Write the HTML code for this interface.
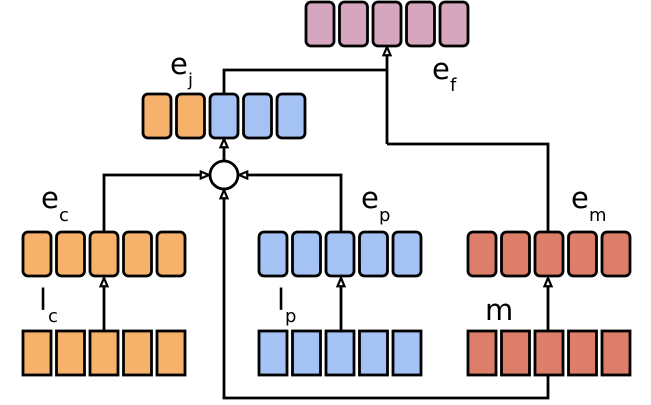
<!DOCTYPE html>
<html><head><meta charset="utf-8"><style>
html,body{margin:0;padding:0;background:#fff;}
svg{display:block;}
text{font-family:"DejaVu Sans","Liberation Sans",sans-serif;fill:#000;}
</style></head><body>
<svg width="651" height="405" viewBox="0 0 651 405" xmlns="http://www.w3.org/2000/svg">
<defs>
<marker id="a" viewBox="0 0 10 10" refX="9" refY="5" markerWidth="11" markerHeight="11" orient="auto" markerUnits="userSpaceOnUse">
<path d="M1.5,1.8 L9,5 L1.5,8.2 Z" fill="#fff" stroke="#000" stroke-width="2"/>
</marker>
</defs>
<g stroke="#000" stroke-width="2.8" fill="none">
<polyline points="224,94 224,70 387,70"/>
<line x1="387" y1="144" x2="387" y2="47" marker-end="url(#a)"/>
<polyline points="548,232 548,144 387,144"/>
<polyline points="104,232 104,175 209,175" marker-end="url(#a)"/>
<polyline points="341,232 341,175 239,175" marker-end="url(#a)"/>
<polyline points="548,376 548,398 224,398 224,190" marker-end="url(#a)"/>
<line x1="224" y1="161" x2="224" y2="139" marker-end="url(#a)"/>
<line x1="104" y1="331" x2="104" y2="278" marker-end="url(#a)"/>
<line x1="341" y1="331" x2="341" y2="278" marker-end="url(#a)"/>
<line x1="548" y1="331" x2="548" y2="278" marker-end="url(#a)"/>
</g>
<circle cx="224" cy="175" r="14" fill="#fff" stroke="#000" stroke-width="2.8"/>
<g stroke="#000" stroke-width="2.8">
<rect x="306" y="2" width="28" height="44" rx="5" fill="#d5a6bd"/>
<rect x="339.5" y="2" width="28" height="44" rx="5" fill="#d5a6bd"/>
<rect x="373" y="2" width="28" height="44" rx="5" fill="#d5a6bd"/>
<rect x="406.5" y="2" width="28" height="44" rx="5" fill="#d5a6bd"/>
<rect x="440" y="2" width="28" height="44" rx="5" fill="#d5a6bd"/>
<rect x="143" y="94" width="28" height="44" rx="5" fill="#f6b26b"/>
<rect x="176.5" y="94" width="28" height="44" rx="5" fill="#f6b26b"/>
<rect x="210" y="94" width="28" height="44" rx="5" fill="#a4c2f4"/>
<rect x="243.5" y="94" width="28" height="44" rx="5" fill="#a4c2f4"/>
<rect x="277" y="94" width="28" height="44" rx="5" fill="#a4c2f4"/>
<rect x="23" y="232" width="28" height="44" rx="5" fill="#f6b26b"/>
<rect x="56.5" y="232" width="28" height="44" rx="5" fill="#f6b26b"/>
<rect x="90" y="232" width="28" height="44" rx="5" fill="#f6b26b"/>
<rect x="123.5" y="232" width="28" height="44" rx="5" fill="#f6b26b"/>
<rect x="157" y="232" width="28" height="44" rx="5" fill="#f6b26b"/>
<rect x="259" y="232" width="28" height="44" rx="5" fill="#a4c2f4"/>
<rect x="292.5" y="232" width="28" height="44" rx="5" fill="#a4c2f4"/>
<rect x="326" y="232" width="28" height="44" rx="5" fill="#a4c2f4"/>
<rect x="359.5" y="232" width="28" height="44" rx="5" fill="#a4c2f4"/>
<rect x="393" y="232" width="28" height="44" rx="5" fill="#a4c2f4"/>
<rect x="468" y="232" width="28" height="44" rx="5" fill="#dd7e6b"/>
<rect x="501.5" y="232" width="28" height="44" rx="5" fill="#dd7e6b"/>
<rect x="535" y="232" width="28" height="44" rx="5" fill="#dd7e6b"/>
<rect x="568.5" y="232" width="28" height="44" rx="5" fill="#dd7e6b"/>
<rect x="602" y="232" width="28" height="44" rx="5" fill="#dd7e6b"/>
<rect x="23" y="331" width="28" height="44" fill="#f6b26b"/>
<rect x="56.5" y="331" width="28" height="44" fill="#f6b26b"/>
<rect x="90" y="331" width="28" height="44" fill="#f6b26b"/>
<rect x="123.5" y="331" width="28" height="44" fill="#f6b26b"/>
<rect x="157" y="331" width="28" height="44" fill="#f6b26b"/>
<rect x="259" y="331" width="28" height="44" fill="#a4c2f4"/>
<rect x="292.5" y="331" width="28" height="44" fill="#a4c2f4"/>
<rect x="326" y="331" width="28" height="44" fill="#a4c2f4"/>
<rect x="359.5" y="331" width="28" height="44" fill="#a4c2f4"/>
<rect x="393" y="331" width="28" height="44" fill="#a4c2f4"/>
<rect x="468" y="331" width="28" height="44" fill="#dd7e6b"/>
<rect x="501.5" y="331" width="28" height="44" fill="#dd7e6b"/>
<rect x="535" y="331" width="28" height="44" fill="#dd7e6b"/>
<rect x="568.5" y="331" width="28" height="44" fill="#dd7e6b"/>
<rect x="602" y="331" width="28" height="44" fill="#dd7e6b"/>
</g>
<g>
<text x="170" y="74" font-size="29">e</text><text x="188" y="86" font-size="18">j</text>
<text x="432" y="79" font-size="29">e</text><text x="450" y="91" font-size="18">f</text>
<text x="41" y="208" font-size="29">e</text><text x="59" y="221" font-size="18">c</text>
<text x="361" y="208" font-size="29">e</text><text x="379" y="221" font-size="18">p</text>
<text x="571" y="208" font-size="29">e</text><text x="589" y="221" font-size="18">m</text>
<text x="39" y="310" font-size="29">l</text><text x="48" y="322" font-size="18">c</text>
<text x="277" y="310" font-size="29">l</text><text x="285" y="322" font-size="18">p</text>
<text x="485" y="320" font-size="29">m</text>
</g>
</svg>
</body></html>
